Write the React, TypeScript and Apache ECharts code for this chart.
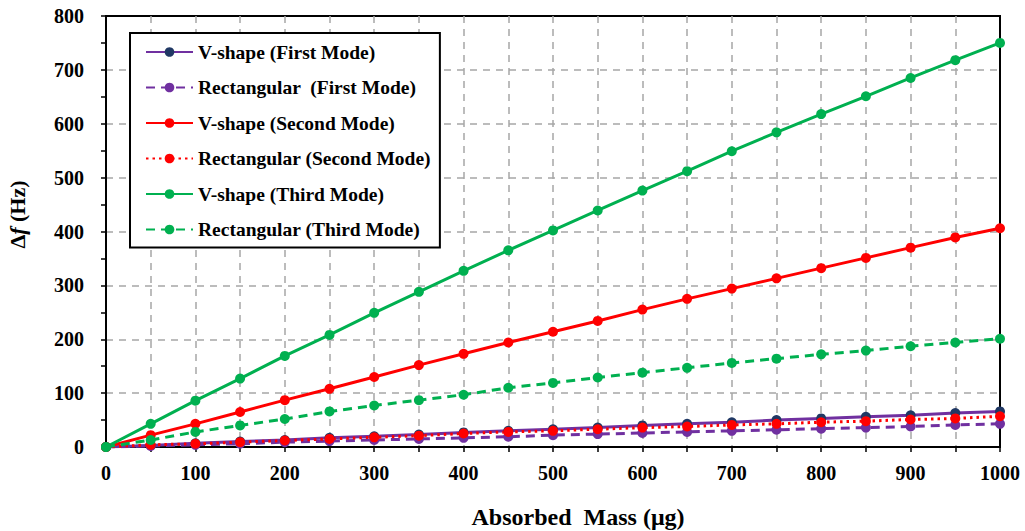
import React, { useEffect, useRef } from "react";
import * as echarts from "echarts";

const masses = [0, 50, 100, 150, 200, 250, 300, 350, 400, 450, 500, 550, 600, 650, 700, 750, 800, 850, 900, 950, 1000];

const vFirst = [0, 3, 7, 10, 13, 17, 20, 23, 27, 30, 33, 36, 40, 43, 46, 50, 53, 56, 59, 63, 66];
const rFirst = [0, 2, 4, 6, 9, 11, 13, 15, 17, 19, 22, 24, 26, 28, 30, 32, 34, 36, 38, 41, 43];
const vSecond = [0, 22, 43, 65, 87, 108, 130, 152, 173, 194, 214, 234, 255, 275, 294, 313, 332, 351, 370, 389, 406];
const rSecond = [0, 4, 6, 9, 12, 15, 18, 21, 25, 28, 30, 33, 36, 38, 41, 43, 46, 48, 51, 53, 57];
const vThird = [0, 43, 86, 127, 169, 208, 249, 288, 327, 365, 402, 439, 476, 512, 549, 584, 618, 651, 685, 718, 750];
const rThird = [0, 13, 28, 40, 52, 66, 77, 87, 97, 110, 119, 129, 138, 147, 156, 164, 172, 179, 187, 194, 201];

const names = [
  "V-shape (First Mode)",
  "Rectangular  (First Mode)",
  "V-shape (Second Mode)",
  "Rectangular (Second Mode)",
  "V-shape (Third Mode)",
  "Rectangular (Third Mode)",
];

const PURPLE = "#7030A0";
const NAVY = "#203864";
const RED = "#FF0000";
const GREEN = "#00B050";
const FONT = "Liberation Serif";

const pair = (ys: number[]) => masses.map((x, i) => [x, ys[i]]);

export default function App() {
  const ref = useRef<HTMLDivElement>(null);
  useEffect(() => {
    if (!ref.current) return;
    const chart = echarts.init(ref.current, undefined, { renderer: "svg" });
    const mk = (name: string, ys: number[], line: string, dot: string, type: any) => ({
      name,
      type: "line",
      data: pair(ys),
      symbol: "circle",
      symbolSize: 10,
      showSymbol: true,
      lineStyle: { color: line, width: 3, type },
      itemStyle: { color: dot },
    });
    const grid = { color: "#A6A6A6", width: 1.5, type: [7, 6] };
    chart.setOption({
      animation: false,
      backgroundColor: "#fff",
      textStyle: { fontFamily: FONT },
      grid: {
        left: 106,
        right: 25,
        top: 16,
        bottom: 84,
        outerBoundsMode: "none",
        containLabel: false,
        show: true,
        borderColor: "#000",
        borderWidth: 2,
        backgroundColor: "transparent",
      },
      legend: {
        orient: "vertical",
        left: 130,
        top: 33,
        padding: [9, 9, 8, 15],
        borderColor: "#000",
        borderWidth: 2,
        backgroundColor: "#fff",
        itemWidth: 47,
        itemHeight: 12,
        itemGap: 15.5,
        data: names,
        textStyle: { fontFamily: FONT, fontSize: 19.5, fontWeight: "bold", color: "#000", lineHeight: 20 },
      },
      xAxis: {
        type: "value",
        min: 0,
        max: 1000,
        interval: 50,
        name: "Absorbed  Mass (μg)",
        nameLocation: "middle",
        nameGap: 58,
        nameTextStyle: { fontFamily: FONT, fontSize: 24, fontWeight: "bold", color: "#000", padding: [0, 0, 0, 50] },
        axisLine: { show: true, onZero: false, lineStyle: { color: "#000", width: 2 } },
        axisTick: { show: true, inside: false, length: 5, lineStyle: { color: "#000", width: 1.5 } },
        axisLabel: {
          margin: 16,
          fontFamily: FONT,
          fontSize: 20,
          fontWeight: "bold",
          color: "#000",
          formatter: (v: number) => (v % 100 === 0 ? String(v) : ""),
        },
        splitLine: { show: true, showMinLine: false, showMaxLine: false, lineStyle: grid },
      },
      yAxis: {
        type: "value",
        min: 0,
        max: 800,
        interval: 100,
        name: "{a|Δ}{b|f}{a| (Hz)}",
        nameLocation: "middle",
        nameRotate: 90,
        nameGap: 78,
        nameTextStyle: {
          color: "#000",
          padding: [0, 0, 0, 34],
          rich: {
            a: { fontFamily: FONT, fontSize: 22, fontWeight: "bold", color: "#000" },
            b: { fontFamily: FONT, fontSize: 22, fontWeight: "bold", fontStyle: "italic", color: "#000" },
          },
        },
        axisLine: { show: true, lineStyle: { color: "#000", width: 2 } },
        axisTick: { show: true, inside: false, length: 5, lineStyle: { color: "#000", width: 1.5 } },
        minorTick: { show: true, splitNumber: 2, length: 5, lineStyle: { color: "#000", width: 1.5 } },
        axisLabel: { margin: 22, fontFamily: FONT, fontSize: 20, fontWeight: "bold", color: "#000" },
        splitLine: { show: true, showMinLine: false, showMaxLine: false, lineStyle: grid },
      },
      series: [
        mk(names[0], vFirst, PURPLE, NAVY, "solid"),
        mk(names[1], rFirst, PURPLE, PURPLE, [9, 6]),
        mk(names[2], vSecond, RED, RED, "solid"),
        mk(names[3], rSecond, RED, RED, [2.5, 4]),
        mk(names[4], vThird, GREEN, GREEN, "solid"),
        mk(names[5], rThird, GREEN, GREEN, [9, 6]),
      ],
    });
    return () => chart.dispose();
  }, []);
  return (
    <div
      ref={ref}
      style={{ position: "absolute", left: 0, top: 0, width: 1025, height: 531, background: "#fff" }}
    />
  );
}
